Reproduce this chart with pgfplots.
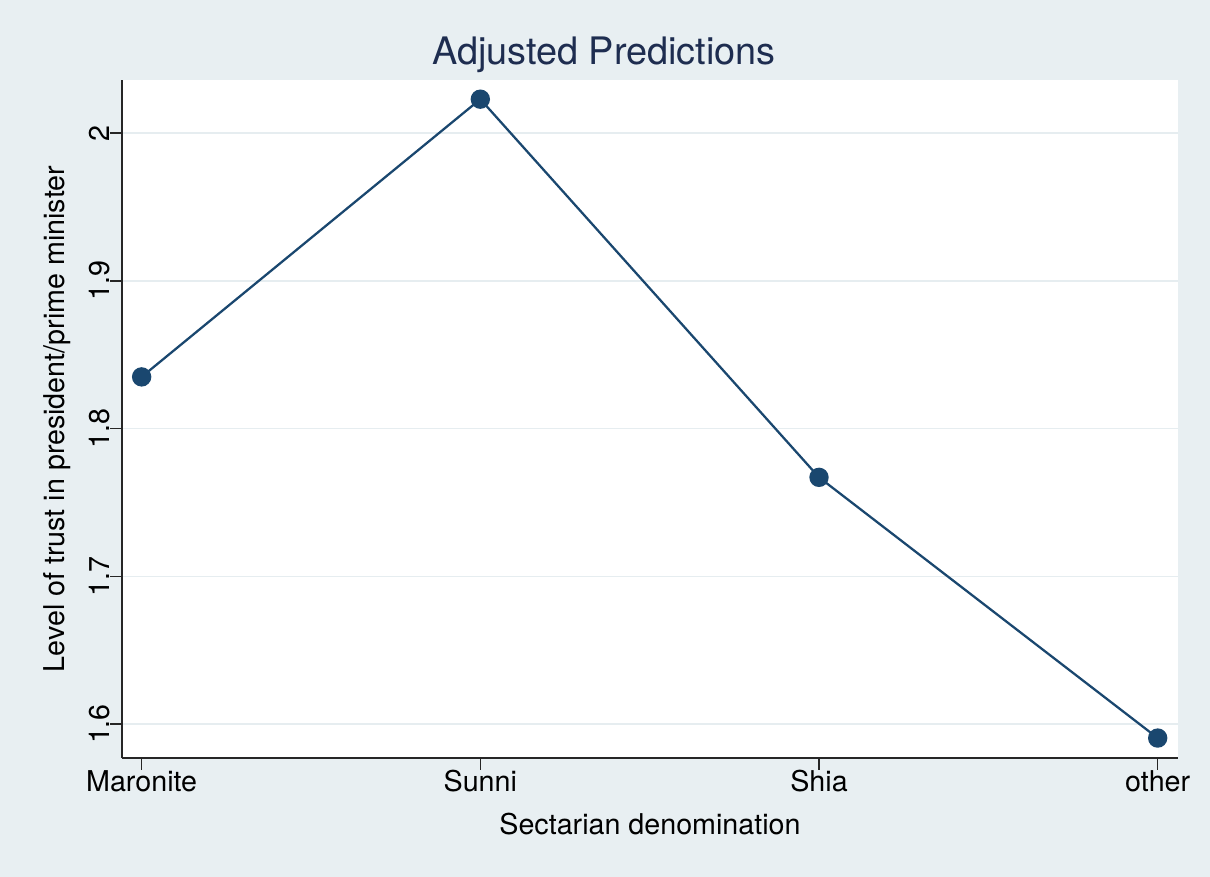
\documentclass[border=0pt]{standalone}
\usepackage{pgfplots}
\pgfplotsset{compat=1.18}
\usepackage{fontspec}
\setmainfont{TeX Gyre Heros}
\definecolor{bg}{RGB}{232,239,242}
\definecolor{gridc}{RGB}{230,237,240}
\definecolor{stnavy}{RGB}{26,71,111}
\definecolor{titlec}{RGB}{30,45,80}
\begin{document}
\begin{tikzpicture}[x=1pt,y=1pt]
\fill[bg] (0,0) rectangle (907.5,657.75);
\begin{axis}[
 at={(91.5pt,89.25pt)}, anchor=south west,
 scale only axis, width=792pt, height=508.5pt,
 xmin=-0.058, xmax=3.06, ymin=1.577, ymax=2.036,
 axis background/.style={fill=white},
 axis x line*=bottom, axis y line*=left,
 axis line style={black!85, line width=1.1pt, -},
 xtick={0,1,2,3}, xticklabels={Maronite,Sunni,Shia,other},
 ytick={1.6,1.7,1.8,1.9,2.0},
 yticklabels={1.6,1.7,1.8,1.9,2},
 tick align=outside, major tick length=9pt,
 tick style={black!85, line width=1.1pt},
 ymajorgrids, grid style={gridc, line width=1.2pt},
 /pgf/number format/assume math mode=true,
 xticklabel style={font=\fontsize{21.5}{24}\selectfont, anchor=north, inner sep=0pt},
 yticklabel style={font=\fontsize{21.5}{24}\selectfont, rotate=90, anchor=south, inner sep=0pt},
 xlabel={Sectarian denomination},
 xlabel style={at={(axis description cs:0.5,-0.0811)}, anchor=north, inner sep=0pt, font=\fontsize{21.5}{24}\selectfont},
 ylabel={Level of trust in president/prime minister},
 ylabel style={at={(axis description cs:-0.0616,0.5)}, anchor=center, inner sep=0pt, font=\fontsize{21.5}{24}\selectfont},
 clip=false,
]
\addplot[stnavy, line width=1.7pt, mark=*, mark size=6.4pt, mark options={fill=stnavy, draw=stnavy}]
 coordinates {(0,1.835) (1,2.023) (2,1.767) (3,1.5905)};
\end{axis}
\node[anchor=base, font=\fontsize{28.4}{32}\selectfont, text=titlec] at (453,609) {Adjusted Predictions};
\end{tikzpicture}
\end{document}
